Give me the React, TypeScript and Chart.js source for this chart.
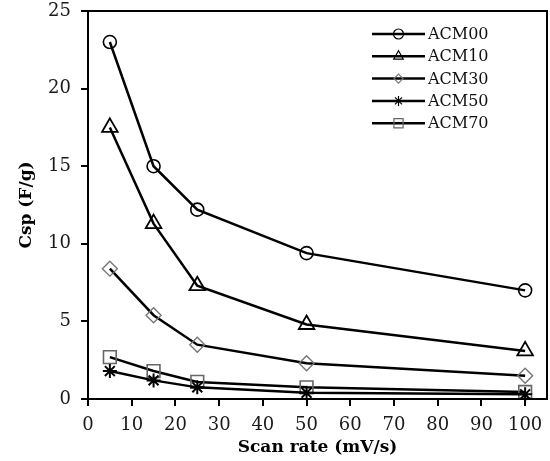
import React, { useEffect, useRef } from 'react';
import { Chart, registerables } from 'chart.js';
import { drawPoint } from 'chart.js/helpers';

Chart.register(...registerables);

const scanRates = [5, 15, 25, 50, 100];
const acm00 = [23.0, 15.0, 12.2, 9.4, 7.0];
const acm10 = [17.5, 11.3, 7.3, 4.8, 3.1];
const acm30 = [8.4, 5.4, 3.5, 2.3, 1.5];
const acm50 = [1.8, 1.2, 0.75, 0.4, 0.3];
const acm70 = [2.7, 1.8, 1.1, 0.75, 0.45];
const seriesNames = ['ACM00', 'ACM10', 'ACM30', 'ACM50', 'ACM70'];
const xTicks = [0, 10, 20, 30, 40, 50, 60, 70, 80, 90, 100];
const yTicks = [0, 5, 10, 15, 20, 25];

const FONT = "'DejaVu Serif', 'Liberation Serif', serif";

const styles = [
  { pointStyle: 'circle', radius: 6.5, color: '#000', legendRadius: 5, bw: 1.6 },
  { pointStyle: 'triangle', radius: 9, color: '#000', legendRadius: 5.5, bw: 1.8 },
  { pointStyle: 'rectRot', radius: 7.5, color: '#777', legendRadius: 4.5, bw: 1.4 },
  { pointStyle: 'star', radius: 7, color: '#000', legendRadius: 5, bw: 2 },
  { pointStyle: 'rect', radius: 9, color: '#666', legendRadius: 6.5, bw: 1.6 },
];

const boxPlugin = {
  id: 'boxPlugin',
  afterDraw(chart: any) {
    const { ctx, chartArea } = chart;
    ctx.save();
    ctx.strokeStyle = '#000';
    ctx.lineWidth = 2;
    ctx.strokeRect(chartArea.left, chartArea.top, chartArea.right - chartArea.left, chartArea.bottom - chartArea.top);
    ctx.restore();
  },
};

const legendPlugin = {
  id: 'insideLegend',
  afterDraw(chart: any) {
    const { ctx, chartArea } = chart;
    const x0 = chartArea.right - 175;
    const x1 = x0 + 53;
    const tx = x1 + 3;
    chart.data.datasets.forEach((ds: any, i: number) => {
      const y = chartArea.top + 23 + i * 22.3;
      const st = styles[i];
      ctx.save();
      ctx.strokeStyle = '#000';
      ctx.lineWidth = 2.5;
      ctx.beginPath();
      ctx.moveTo(x0, y);
      ctx.lineTo(x1, y);
      ctx.stroke();
      ctx.strokeStyle = st.color;
      ctx.fillStyle = 'rgba(0,0,0,0)';
      ctx.lineWidth = 1.2;
      drawPoint(ctx, { pointStyle: st.pointStyle, radius: st.legendRadius, rotation: 0, borderWidth: 1.2 } as any, (x0 + x1) / 2, y);
      ctx.fillStyle = '#111';
      ctx.font = `16px ${FONT}`;
      ctx.textAlign = 'left';
      ctx.textBaseline = 'middle';
      ctx.fillText(ds.label, tx, y + 1);
      ctx.restore();
    });
  },
};

const zeroPad = (s: any) => {
  s.paddingTop = 0;
  s.paddingBottom = 0;
  s.paddingLeft = 0;
  s.paddingRight = 0;
};

export default function App() {
  const ref = useRef<HTMLCanvasElement>(null);
  useEffect(() => {
    const series = [acm00, acm10, acm30, acm50, acm70];
    const datasets = series.map((vals, i) => ({
      label: seriesNames[i],
      data: scanRates.map((x, j) => ({ x, y: vals[j] })),
      borderColor: '#000',
      borderWidth: 2.5,
      pointStyle: styles[i].pointStyle,
      pointRadius: styles[i].radius,
      pointBorderColor: styles[i].color,
      pointBackgroundColor: 'rgba(255,255,255,0)',
      pointBorderWidth: styles[i].bw,
      tension: 0,
      fill: false,
      clip: false,
    }));
    const chart = new Chart(ref.current!, {
      type: 'line',
      data: { datasets } as any,
      plugins: [boxPlugin, legendPlugin],
      options: {
        animation: false,
        responsive: false,
        layout: { autoPadding: false, padding: { left: 0, right: 3, top: 11, bottom: 0 } },
        plugins: { legend: { display: false }, tooltip: { enabled: false } },
        scales: {
          x: {
            type: 'linear',
            min: 0,
            max: 105,
            afterBuildTicks: (s: any) => { s.ticks = xTicks.map((v) => ({ value: v })); },
            afterFit: (s: any) => { s.height = 62; zeroPad(s); },
            grid: { display: true, drawOnChartArea: false, tickLength: 7, color: '#000', lineWidth: 2 },
            border: { display: true, color: '#000', width: 2 },
            ticks: { color: '#1a1a1a', font: { family: FONT, size: 18 }, padding: 9, maxRotation: 0, autoSkip: false },
            title: { display: true, text: 'Scan rate (mV/s)', color: '#000', font: { family: FONT, size: 17, weight: 'bold' }, padding: { top: 0, bottom: 3 } },
          },
          y: {
            type: 'linear',
            min: 0,
            max: 25,
            afterBuildTicks: (s: any) => { s.ticks = yTicks.map((v) => ({ value: v })); },
            afterFit: (s: any) => { s.width = 88; zeroPad(s); },
            grid: { display: true, drawOnChartArea: false, tickLength: 7, color: '#000', lineWidth: 2 },
            border: { display: true, color: '#000', width: 2 },
            ticks: { color: '#1a1a1a', font: { family: FONT, size: 18 }, padding: 10 },
            title: { display: true, text: 'Csp (F/g)', color: '#000', font: { family: FONT, size: 17, weight: 'bold' }, padding: { top: 16, bottom: 0 } },
          },
        },
      } as any,
    });
    return () => chart.destroy();
  }, []);
  return (
    <div style={{ position: 'absolute', left: 0, top: 0, width: 550, height: 461, background: '#fff' }}>
      <canvas ref={ref} width={550} height={461} style={{ display: 'block' }} />
    </div>
  );
}
